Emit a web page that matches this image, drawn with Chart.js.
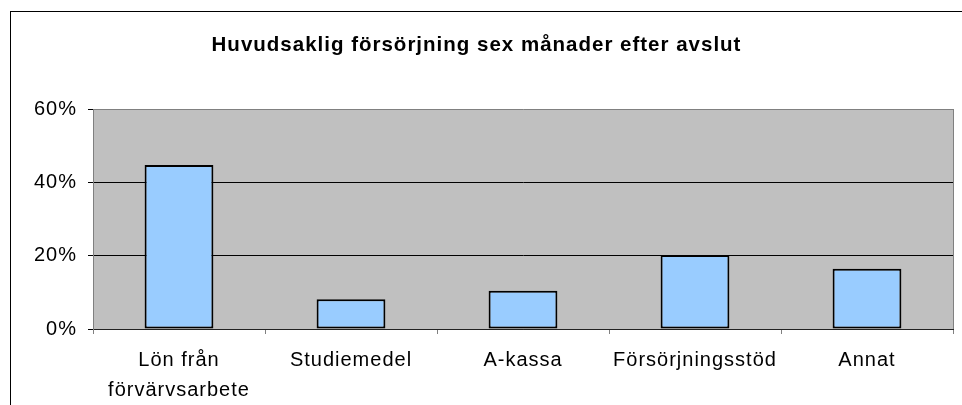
<!DOCTYPE html>
<html>
<head>
<meta charset="utf-8">
<script src="https://cdn.jsdelivr.net/npm/chart.js@4.4.0/dist/chart.umd.min.js"></script>
<style>
  html, body { margin: 0; padding: 0; background: #fff; overflow: hidden; }
  #wrap { position: relative; width: 962px; height: 405px; overflow: hidden; }
  #frame { position: absolute; left: 10px; top: 11px; width: 1000px; height: 1000px; border: 1px solid #000; box-sizing: border-box; }
  canvas { position: absolute; left: 0; top: 0; }
</style>
</head>
<body>
<div id="wrap">
  <div id="frame"></div>
  <canvas id="c" width="962" height="405"></canvas>
</div>
<script>
const titleText = 'Huvudsaklig försörjning sex månader efter avslut';
const categories = [['Lön från', 'förvärvsarbete'], 'Studiemedel', 'A-kassa', 'Försörjningsstöd', 'Annat'];
const values = [44.7, 8.1, 10.4, 20.2, 16.4];
const yTicks = [0, 20, 40, 60];

const FONT = "'Liberation Sans', Arial, sans-serif";

const plotBg = {
  id: 'plotBg',
  beforeUpdate(chart) { chart.ctx.letterSpacing = '1px'; },
  beforeDraw(chart) {
    const { ctx, chartArea: a } = chart;
    ctx.letterSpacing = '1px';
    ctx.save();
    ctx.fillStyle = '#C0C0C0';
    ctx.fillRect(a.left, a.top, a.right - a.left, a.bottom - a.top);
    ctx.strokeStyle = '#808080';
    ctx.lineWidth = 1;
    ctx.beginPath();
    ctx.moveTo(Math.round(a.right) + 0.5, a.top);
    ctx.lineTo(Math.round(a.right) + 0.5, a.bottom + 5);
    ctx.stroke();
    ctx.restore();
  }
};

new Chart(document.getElementById('c'), {
  type: 'bar',
  data: {
    labels: categories,
    datasets: [{
      data: values,
      backgroundColor: '#99CCFF',
      borderColor: '#000000',
      borderWidth: 2,
      borderSkipped: false,
      barPercentage: 0.4,
      categoryPercentage: 1.0
    }]
  },
  options: {
    responsive: false,
    animation: false,
    layout: { padding: { left: 0, right: 9, top: 0, bottom: 0 } },
    plugins: {
      legend: { display: false },
      tooltip: { enabled: false },
      title: {
        display: true,
        text: titleText,
        color: '#000',
        font: { family: FONT, size: 20.5, weight: 'bold', lineHeight: 1.2 },
        padding: { top: 33, bottom: 51.4 }
      }
    },
    scales: {
      x: {
        offset: true,
        grid: {
          offset: true,
          drawOnChartArea: false,
          drawTicks: true,
          tickLength: 5,
          tickColor: '#808080'
        },
        border: { display: true, color: '#222222', width: 1 },
        ticks: {
          color: '#000',
          font: { family: FONT, size: 20, lineHeight: 1.5 },
          padding: 11,
          maxRotation: 0,
          autoSkip: false
        },
        afterFit(scale) { scale.height = 76; }
      },
      y: {
        min: 0,
        max: 60,
        afterBuildTicks(scale) { scale.ticks = yTicks.map(v => ({ value: v })); },
        grid: {
          color: ctx => (ctx.tick && ctx.tick.value === 60) ? '#808080' : '#000000',
          tickColor: '#000000',
          tickLength: 5,
          drawTicks: true
        },
        border: { display: true, color: '#808080', width: 1 },
        ticks: {
          color: '#000',
          font: { family: FONT, size: 20 },
          padding: 11,
          callback: v => v + '%'
        },
        afterFit(scale) { scale.width = 93; }
      }
    }
  },
  plugins: [plotBg]
});
</script>
</body>
</html>
